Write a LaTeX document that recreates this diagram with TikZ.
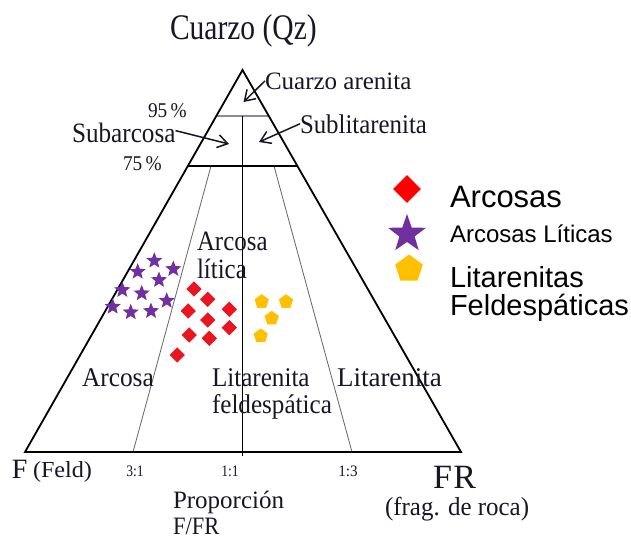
\documentclass[tikz,border=0pt]{standalone}
\usepackage{fontspec}
\setmainfont{Liberation Serif}
\newfontfamily\legendfont{Liberation Sans}
\usepackage{graphicx}
\usetikzlibrary{shapes.geometric,arrows.meta,calc}
\definecolor{ink}{RGB}{22,22,38}
\definecolor{ptred}{RGB}{232,22,32}
\definecolor{lgred}{RGB}{255,0,0}
\definecolor{ptpurple}{RGB}{112,48,160}
\definecolor{ptyellow}{RGB}{255,192,0}
\newcommand{\lbl}[3]{\scalebox{#2}[1]{\fontsize{#1}{#1}\selectfont #3}}
\newcommand{\lgl}[2]{{\legendfont\fontsize{#1}{#1}\selectfont #2}}
\begin{document}
\begin{tikzpicture}[x=1pt,y=-1pt,
  outline/.style={line width=1.8pt, line join=miter, black},
  heavy/.style={line width=1.9pt, black},
  innerline/.style={line width=0.8pt, black!60},
  grayline/.style={line width=1.4pt, black!45},
  lab/.style={inner sep=0pt, outer sep=0pt, text=ink},
  arr/.style={-{Straight Barb[length=10pt,width=13pt]}, line width=1.5pt, ink},
  dia/.style={diamond, aspect=1, fill=ptred, inner sep=0pt, minimum size=15.5pt},
  st/.style={star, star points=5, star point ratio=2.3, fill=ptpurple, inner sep=0pt, minimum size=17pt},
  pent/.style={regular polygon, regular polygon sides=5, fill=ptyellow, inner sep=0pt, minimum size=15pt}]
\fill[white] (0,0) rectangle (631,539);
\useasboundingbox (0,0) rectangle (631,539);

% triangle
\coordinate (A) at (242.5,70);
\coordinate (L) at (25,452);
\coordinate (R) at (461,452);
\coordinate (q95l) at ($(A)!0.1204!(L)$);
\coordinate (q95r) at ($(A)!0.1204!(R)$);
\coordinate (q75l) at ($(A)!0.2513!(L)$);
\coordinate (q75r) at ($(A)!0.2513!(R)$);
\coordinate (v1) at (242.5,116);
\coordinate (v2) at (242.5,456);
\coordinate (t31a) at (211,166);
\coordinate (t31b) at (133,452);
\coordinate (t13a) at (274,166);
\coordinate (t13b) at (352,452);

\draw[grayline] (q95l) -- (q95r);
\draw[innerline] (t31a) -- (t31b);
\draw[innerline] (t13a) -- (t13b);
\draw[heavy] (v1) -- (v2);
\draw[heavy] (q75l) -- (q75r);
\draw[outline] (A) -- (L) -- (R) -- cycle;

% top labels
\node[lab, anchor=base west] (qz) at (170,39.5) {\lbl{36}{0.82}{Cuarzo (Qz)}};
\node[lab, anchor=base west] (qa) at (265,89) {\lbl{25}{1}{Cuarzo arenita}};
\node[lab, anchor=base west, text depth=0pt] (p95) at (148,117.5) {\lbl{21}{0.92}{95\,\%}};
\node[lab, anchor=base west, text height=19pt] (sa) at (72,142) {\lbl{28}{0.9}{Subarcosa}};
\node[lab, anchor=base west] (p75) at (123,170) {\lbl{21}{0.92}{75\,\%}};
\node[lab, anchor=base west] (sl) at (300,133) {\lbl{27}{0.92}{Sublitarenita}};

\coordinate (tipqa) at (243.5,102);
\coordinate (tipsa) at (229,144);
\coordinate (tipsl) at (259,142);
\draw[arr] (qa.west) -- (tipqa);
\draw[arr] ([yshift=2pt]sa.east) -- (tipsa);
\draw[arr] (sl.west) -- (tipsl);

% field labels
\node[lab, anchor=base west] (al1) at (197,250) {\lbl{28}{0.89}{Arcosa}};
\node[lab, anchor=base west] (al2) at (197,278) {\lbl{28}{0.89}{lítica}};
\node[lab, anchor=base west] (ar) at (82,386) {\lbl{27}{0.94}{Arcosa}};
\node[lab, anchor=base west] (lf1) at (212,386) {\lbl{27}{0.93}{Litarenita}};
\node[lab, anchor=base west] (lf2) at (212,413) {\lbl{27}{0.93}{feldespática}};
\node[lab, anchor=base west] (li) at (337,386) {\lbl{27}{1}{Litarenita}};

% bottom labels
\node[lab, anchor=base west] (fF) at (12,478) {\lbl{28}{1}{F}};
\node[lab, anchor=base west] (fFeld) at (33,477) {\lbl{23}{1.05}{(Feld)}};
\node[lab, anchor=base] (r31) at (135,476) {\lbl{16}{0.85}{3:1}};
\node[lab, anchor=base] (r11) at (230,476) {\lbl{16}{0.85}{1:1}};
\node[lab, anchor=base] (r13) at (348,476) {\lbl{16}{0.95}{1:3}};
\node[lab, anchor=base west] (fr) at (433,488) {\lbl{34}{1}{F\kern1.5pt R}};
\node[lab, anchor=base west] (frr) at (385,515) {\lbl{26}{0.96}{(frag. de roca)}};
\node[lab, anchor=base west] (pr1) at (173,508) {\lbl{25}{1}{Proporción}};
\node[lab, anchor=base west] (pr2) at (173,534.5) {\lbl{25}{0.9}{F/FR}};

% data points
\foreach \p [count=\i] in {(154.3,260.7),(137.7,271.7),(173.3,269),(159,280),(122.3,290),(141.7,293.3),(166.7,300.7),(112.7,306.7),(130.7,312.3),(151,311)}
  \node[st] (s\i) at \p {};
\foreach \p [count=\i] in {(194,289),(207.7,299.3),(188.3,311),(229.3,309.3),(207.7,320),(229.3,327.7),(189.3,335),(209.3,338.3),(177.3,355)}
  \node[dia] (d\i) at \p {};
\foreach \p [count=\i] in {(261.7,301.7),(286,301.7),(271.7,318.3),(260.7,336)}
  \node[pent] (y\i) at \p {};

% legend
\node[dia, fill=lgred, minimum size=28pt] (lg1) at (407,189) {};
\node[st, star point ratio=2.5, minimum size=40pt] (lg2) at (407,234) {};
\node[pent, minimum size=29pt] (lg3) at (409,269) {};
\node[lab, text=black, anchor=base west] (lt1) at (450,207) {\lgl{31}{Arcosas}};
\node[lab, text=black, anchor=base west] (lt2) at (450,242) {\lgl{24}{Arcosas Líticas}};
\node[lab, text=black, anchor=base west, text depth=0pt] (lt3) at (450,287.5) {\lgl{29}{Litarenitas}};
\node[lab, text=black, anchor=base west, text height=21pt] (lt4) at (450,315) {\lgl{29}{Feldespáticas}};
\end{tikzpicture}
\end{document}
